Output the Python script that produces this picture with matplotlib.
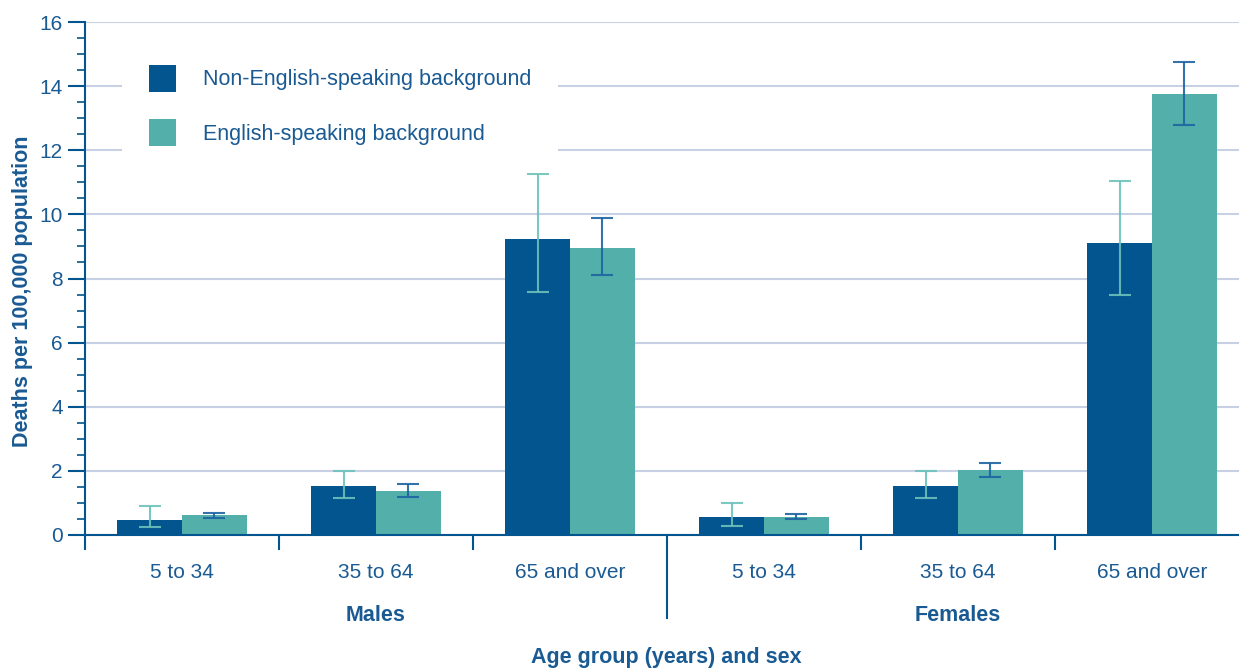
import numpy as np
import matplotlib
matplotlib.use("Agg")
from matplotlib import pyplot as plt
from matplotlib.ticker import MultipleLocator

plt.rcParams['font.family'] = ['Liberation Sans', 'DejaVu Sans']

age_groups = ["5 to 34", "35 to 64", "65 and over", "5 to 34", "35 to 64", "65 and over"]
sexes = ["Males", "Females"]
series_names = ["Non-English-speaking background", "English-speaking background"]

nesb = [0.46, 1.53, 9.23, 0.56, 1.53, 9.10]
nesb_lo = [0.24, 1.15, 7.58, 0.29, 1.15, 7.49]
nesb_hi = [0.91, 2.00, 11.26, 1.00, 2.00, 11.04]

esb = [0.62, 1.37, 8.95, 0.56, 2.03, 13.76]
esb_lo = [0.52, 1.20, 8.10, 0.50, 1.80, 12.78]
esb_hi = [0.70, 1.58, 9.90, 0.67, 2.25, 14.75]

DARK = "#03558f"
TEAL = "#52afaa"
TEXT = "#1a5a93"
GRID = "#c8d0e4"

fig = plt.figure(figsize=(12.39, 6.68), dpi=100)
ax = fig.add_axes([85 / 1239, 1 - 535 / 668, 1164 / 1239, 513 / 668])

x = np.arange(len(age_groups))
w = 0.335
nesb_a = np.array(nesb)
esb_a = np.array(esb)
err1 = [nesb_a - np.array(nesb_lo), np.array(nesb_hi) - nesb_a]
err2 = [esb_a - np.array(esb_lo), np.array(esb_hi) - esb_a]

ax.bar(x - w / 2, nesb, w, color=DARK, label=series_names[0], zorder=2)
ax.bar(x + w / 2, esb, w, color=TEAL, label=series_names[1], zorder=2)
ax.errorbar(x - w / 2, nesb, yerr=err1, fmt="none", ecolor="#6cc2ba", elinewidth=1.5,
            capsize=8, capthick=1.5, zorder=3, alpha=0.9)
ax.errorbar(x + w / 2, esb, yerr=err2, fmt="none", ecolor="#1d64a3", elinewidth=1.5,
            capsize=8, capthick=1.5, zorder=3, alpha=0.9)

ax.set_xlim(-0.5, 5.5)
ax.set_ylim(0, 16)
ax.yaxis.set_major_locator(MultipleLocator(2))
ax.yaxis.set_minor_locator(MultipleLocator(0.5))
ax.grid(axis="y", color=GRID, linewidth=1.5, zorder=0)
ax.set_axisbelow(True)

for s in ["top", "right"]:
    ax.spines[s].set_visible(False)
for s in ["left", "bottom"]:
    ax.spines[s].set_color(DARK)
    ax.spines[s].set_linewidth(1.5)

ax.tick_params(axis="y", which="major", length=12, width=1.5, color=DARK,
               labelsize=15, labelcolor=TEXT, pad=4)
ax.tick_params(axis="y", which="minor", length=6, width=1.2, color=DARK)

ax.set_xticks(x)
ax.set_xticklabels(age_groups)
ax.set_xticks([-0.5, 0.5, 1.5, 3.5, 4.5], minor=True)
ax.tick_params(axis="x", which="major", length=0, labelsize=15, labelcolor=TEXT, pad=20)
ax.tick_params(axis="x", which="minor", length=11, width=1.5, color=DARK)
ax.axvline(2.5, ymin=-0.162, ymax=0, color=DARK, linewidth=1.5, clip_on=False)

ax.text(1, -0.156, sexes[0], transform=ax.get_xaxis_transform(), ha="center", va="center",
        fontsize=15.5, fontweight="bold", color=TEXT)
ax.text(4, -0.156, sexes[1], transform=ax.get_xaxis_transform(), ha="center", va="center",
        fontsize=15.5, fontweight="bold", color=TEXT)
fig.text(666 / 1239, 1 - 657 / 668, "Age group (years) and sex", ha="center", va="center",
         fontsize=15.5, fontweight="bold", color=TEXT)
fig.text(23 / 1239, 1 - 291 / 668, "Deaths per 100,000 population", ha="center", va="center",
         rotation=90, fontsize=15.5, fontweight="bold", color=TEXT)

leg = ax.legend(loc="upper left", bbox_to_anchor=(37 / 1164, 497 / 513), frameon=True,
                fontsize=15.5, handlelength=1.25, handleheight=1.55, handletextpad=1.25,
                labelspacing=1.28, borderpad=1.25, borderaxespad=0, labelcolor=TEXT,
                fancybox=False)
leg.get_frame().set_facecolor("white")
leg.get_frame().set_edgecolor("none")
leg.get_frame().set_alpha(1)

fig.savefig("out.png", dpi=100)
